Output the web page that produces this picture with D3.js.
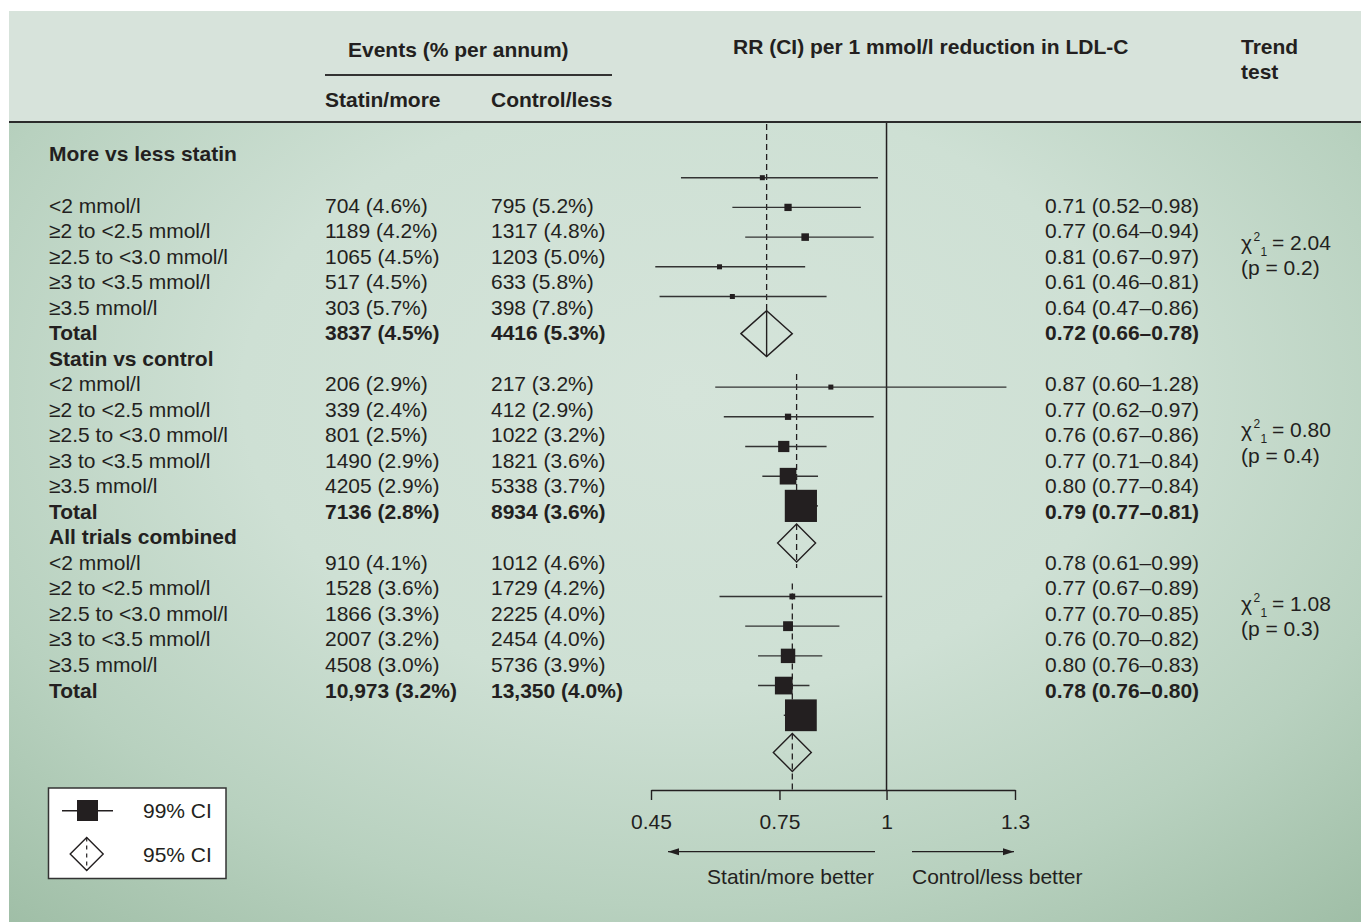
<!DOCTYPE html>
<html>
<head>
<meta charset="utf-8">
<script src="https://cdn.jsdelivr.net/npm/d3@7"></script>
<style>
  html, body { margin: 0; padding: 0; background: #ffffff; }
  svg { display: block; }
  text { font-family: "Liberation Sans", Arial, Helvetica, sans-serif; fill: #231f20; }
</style>
</head>
<body>
<svg id="chart" width="1361" height="922"></svg>
<script>
// ---------------- DATA ----------------
const groups = ["More vs less statin", "Statin vs control", "All trials combined"];
const categories = ["<2 mmol/l", "\u22652 to <2.5 mmol/l", "\u22652.5 to <3.0 mmol/l", "\u22653 to <3.5 mmol/l", "\u22653.5 mmol/l", "Total"];

const statinEvents = [
  [704, 1189, 1065, 517, 303, 3837],
  [206, 339, 801, 1490, 4205, 7136],
  [910, 1528, 1866, 2007, 4508, 10973]
];
const statinPct = [
  [4.6, 4.2, 4.5, 4.5, 5.7, 4.5],
  [2.9, 2.4, 2.5, 2.9, 2.9, 2.8],
  [4.1, 3.6, 3.3, 3.2, 3.0, 3.2]
];
const controlEvents = [
  [795, 1317, 1203, 633, 398, 4416],
  [217, 412, 1022, 1821, 5338, 8934],
  [1012, 1729, 2225, 2454, 5736, 13350]
];
const controlPct = [
  [5.2, 4.8, 5.0, 5.8, 7.8, 5.3],
  [3.2, 2.9, 3.2, 3.6, 3.7, 3.6],
  [4.6, 4.2, 4.0, 4.0, 3.9, 4.0]
];
const rr = [
  [0.71, 0.77, 0.81, 0.61, 0.64, 0.72],
  [0.87, 0.77, 0.76, 0.77, 0.80, 0.79],
  [0.78, 0.77, 0.77, 0.76, 0.80, 0.78]
];
const rrLow = [
  [0.52, 0.64, 0.67, 0.46, 0.47, 0.66],
  [0.60, 0.62, 0.67, 0.71, 0.77, 0.77],
  [0.61, 0.67, 0.70, 0.70, 0.76, 0.76]
];
const rrHigh = [
  [0.98, 0.94, 0.97, 0.81, 0.86, 0.78],
  [1.28, 0.97, 0.86, 0.84, 0.84, 0.81],
  [0.99, 0.89, 0.85, 0.82, 0.83, 0.80]
];
const chiSquare = [2.04, 0.80, 1.08];
const pValues = [0.2, 0.4, 0.3];

const axisTicks = [0.45, 0.75, 1, 1.3];
const axisTickLabels = ["0.45", "0.75", "1", "1.3"];

// ---------------- LAYOUT ----------------
const INK = "#231f20";
const FS = 21;
const svg = d3.select("#chart");

const defs = svg.append("defs");
const rg = defs.append("radialGradient").attr("id", "bodyGrad")
  .attr("cx", "0.5").attr("cy", "0.42").attr("r", "0.78").attr("fx", "0.5").attr("fy", "0.42");
[[0, "#d5e4da"], [0.42, "#cee0d4"], [0.72, "#b8d1bf"], [1, "#9ebda5"]]
  .forEach(([o, c]) => rg.append("stop").attr("offset", o).attr("stop-color", c));

const panel = { x: 9, y: 11, w: 1352, h: 911 };
const headerBottom = 122;

// body background
svg.append("rect").attr("x", panel.x).attr("y", panel.y).attr("width", panel.w).attr("height", panel.h)
  .attr("fill", "url(#bodyGrad)");
// header band
svg.append("rect").attr("x", panel.x).attr("y", panel.y).attr("width", panel.w).attr("height", headerBottom - panel.y)
  .attr("fill", "#d7e3db");
svg.append("line").attr("x1", panel.x).attr("x2", panel.x + panel.w)
  .attr("y1", headerBottom).attr("y2", headerBottom)
  .attr("stroke", "#2b2b2b").attr("stroke-width", 2);

// column x positions
const col = { label: 49, statin: 325, control: 491, rr: 1045, trend: 1241 };

// header texts
function txt(x, y, s, bold, anchor) {
  return svg.append("text").attr("x", x).attr("y", y).attr("font-size", FS)
    .attr("font-weight", bold ? "bold" : "normal")
    .attr("text-anchor", anchor || "start").text(s);
}
txt(348, 56.5, "Events (% per annum)", true);
svg.append("line").attr("x1", 325).attr("x2", 612).attr("y1", 75).attr("y2", 75)
  .attr("stroke", "#333").attr("stroke-width", 2);
txt(col.statin, 106.5, "Statin/more", true);
txt(col.control, 106.5, "Control/less", true);
txt(733, 54, "RR (CI) per 1 mmol/l reduction in LDL-C", true);
txt(col.trend, 54, "Trend", true);
txt(col.trend, 79, "test", true);

// ---------- text table ----------
const textRow = d3.scaleLinear().domain([0, 19]).range([205, 690]); // row centres
const base = r => textRow(r) + 7.5;
const fmtN = n => n >= 10000 ? d3.format(",")(n) : String(n);
const fmtRR = (v, l, h) => `${v.toFixed(2)} (${l.toFixed(2)}\u2013${h.toFixed(2)})`;

groups.forEach((gName, g) => {
  const headerRow = g === 0 ? -2 : g * 7 - 1;
  txt(col.label, base(headerRow), gName, true);
  categories.forEach((cat, j) => {
    const r = g === 0 ? j : g * 7 + j;
    const bold = j === categories.length - 1;
    txt(col.label, base(r), cat, bold);
    txt(col.statin, base(r), `${fmtN(statinEvents[g][j])} (${statinPct[g][j].toFixed(1)}%)`, bold);
    txt(col.control, base(r), `${fmtN(controlEvents[g][j])} (${controlPct[g][j].toFixed(1)}%)`, bold);
    txt(col.rr, base(r), fmtRR(rr[g][j], rrLow[g][j], rrHigh[g][j]), bold);
  });
  // trend test
  const first = g === 0 ? 0 : g * 7;
  const tr = first + [1.45, 1.8, 1.6][g];
  const t = svg.append("text").attr("x", col.trend).attr("y", base(tr)).attr("font-size", FS);
  t.append("tspan").text("\u03c7");
  t.append("tspan").attr("x", col.trend + 12.5).attr("dy", -9).attr("font-size", 12).text("2");
  t.append("tspan").attr("x", col.trend + 19.5).attr("dy", 15).attr("font-size", 12).text("1");
  t.append("tspan").attr("x", col.trend + 31).attr("dy", -6).text(`= ${chiSquare[g].toFixed(2)}`);
  txt(col.trend, base(tr + 1), `(p = ${pValues[g]})`, false);
});

// ---------- forest plot ----------
const x = d3.scaleLinear().domain([0.45, 1.3]).range([651, 1015]);
const SLOTS_PER_GROUP = 7.05, DIAMOND_SLOT = 5.25;
const ySlot = d3.scaleLinear().domain([0, 19.35]).range([177.7, 752.4]);
const axisY = 790;

const plot = svg.append("g");

// no-effect line
plot.append("line").attr("x1", x(1)).attr("x2", x(1))
  .attr("y1", headerBottom + 1).attr("y2", axisY)
  .attr("stroke", INK).attr("stroke-width", 1.5);

groups.forEach((gName, g) => {
  const nSub = categories.length - 1;
  const pooled = rr[g][nSub];
  const dSlot = g * SLOTS_PER_GROUP + DIAMOND_SLOT;
  const dy = ySlot(dSlot);
  const halfW = Math.max((x(rrHigh[g][nSub]) - x(rrLow[g][nSub])) / 2, 19);
  const halfH = Math.min(halfW, 23);

  // pooled dashed reference line
  const dashTop = g === 0 ? headerBottom + 2 : ySlot(g * SLOTS_PER_GROUP) - 13;
  const dashBottom = g === 0 ? dy - halfH : (g === 2 ? axisY : dy + halfH + 6);
  plot.append("line").attr("x1", x(pooled)).attr("x2", x(pooled))
    .attr("y1", dashTop).attr("y2", dashBottom)
    .attr("stroke", INK).attr("stroke-width", 1.3).attr("stroke-dasharray", "6,4");

  // subgroup CIs and squares (side ~ inverse of CI width, i.e. statistical weight)
  for (let j = 0; j < nSub; j++) {
    const yy = ySlot(g * SLOTS_PER_GROUP + j);
    plot.append("line").attr("x1", x(rrLow[g][j])).attr("x2", x(rrHigh[g][j]))
      .attr("y1", yy).attr("y2", yy).attr("stroke", "#333").attr("stroke-width", 1.4);
    const side = Math.max(5, 2.8 / Math.log(rrHigh[g][j] / rrLow[g][j]));
    plot.append("rect").attr("x", x(rr[g][j]) - side / 2).attr("y", yy - side / 2)
      .attr("width", side).attr("height", side).attr("fill", INK);
  }

  // diamond
  const cx = x(pooled);
  plot.append("path")
    .attr("d", `M${cx - halfW},${dy} L${cx},${dy - halfH} L${cx + halfW},${dy} L${cx},${dy + halfH} Z`)
    .attr("fill", "none").attr("stroke", INK).attr("stroke-width", 1.4);
  if (g === 0) {
    plot.append("line").attr("x1", cx).attr("x2", cx).attr("y1", dy - halfH).attr("y2", dy + halfH)
      .attr("stroke", INK).attr("stroke-width", 1.4);
  }
});

// axis
const axis = d3.axisBottom(x).tickValues(axisTicks)
  .tickFormat((d, i) => axisTickLabels[i]).tickSize(10).tickSizeOuter(0).tickPadding(14);
const ag = svg.append("g").attr("transform", `translate(0,${axisY})`).call(axis);
ag.select(".domain").attr("stroke", INK).attr("stroke-width", 1.4);
ag.selectAll(".tick line").attr("stroke", INK).attr("stroke-width", 1.4);
ag.selectAll(".tick text").attr("font-size", FS).attr("fill", INK)
  .attr("font-family", "Liberation Sans, Arial, sans-serif");

// direction arrows
const arrowY = 851.7;
function arrow(x1, x2) {
  svg.append("line").attr("x1", x1).attr("x2", x2).attr("y1", arrowY).attr("y2", arrowY)
    .attr("stroke", INK).attr("stroke-width", 1.3);
  const s = x2 > x1 ? 1 : -1;
  svg.append("path").attr("d", `M${x2},${arrowY} L${x2 - s * 11},${arrowY - 3.5} L${x2 - s * 11},${arrowY + 3.5} Z`)
    .attr("fill", INK);
}
arrow(875, 668);
arrow(912, 1014);
txt(874, 884, "Statin/more better", false, "end");
txt(912, 884, "Control/less better", false, "start");

// legend
const lg = svg.append("g");
lg.append("rect").attr("x", 48.5).attr("y", 788).attr("width", 177.5).attr("height", 90.5)
  .attr("fill", "#ffffff").attr("stroke", "#333").attr("stroke-width", 1.5);
lg.append("line").attr("x1", 62).attr("x2", 113).attr("y1", 810.7).attr("y2", 810.7)
  .attr("stroke", INK).attr("stroke-width", 1.4);
lg.append("rect").attr("x", 77).attr("y", 800).attr("width", 21).attr("height", 21).attr("fill", INK);
txt(143, 818.2, "99% CI", false);
const lcx = 86.7, lcy = 854, lh = 16.5;
lg.append("path").attr("d", `M${lcx - lh},${lcy} L${lcx},${lcy - lh} L${lcx + lh},${lcy} L${lcx},${lcy + lh} Z`)
  .attr("fill", "none").attr("stroke", INK).attr("stroke-width", 1.4);
lg.append("line").attr("x1", lcx).attr("x2", lcx).attr("y1", lcy - lh).attr("y2", lcy + lh)
  .attr("stroke", INK).attr("stroke-width", 1.2).attr("stroke-dasharray", "4,4");
txt(143, 861.5, "95% CI", false);
</script>
</body>
</html>
